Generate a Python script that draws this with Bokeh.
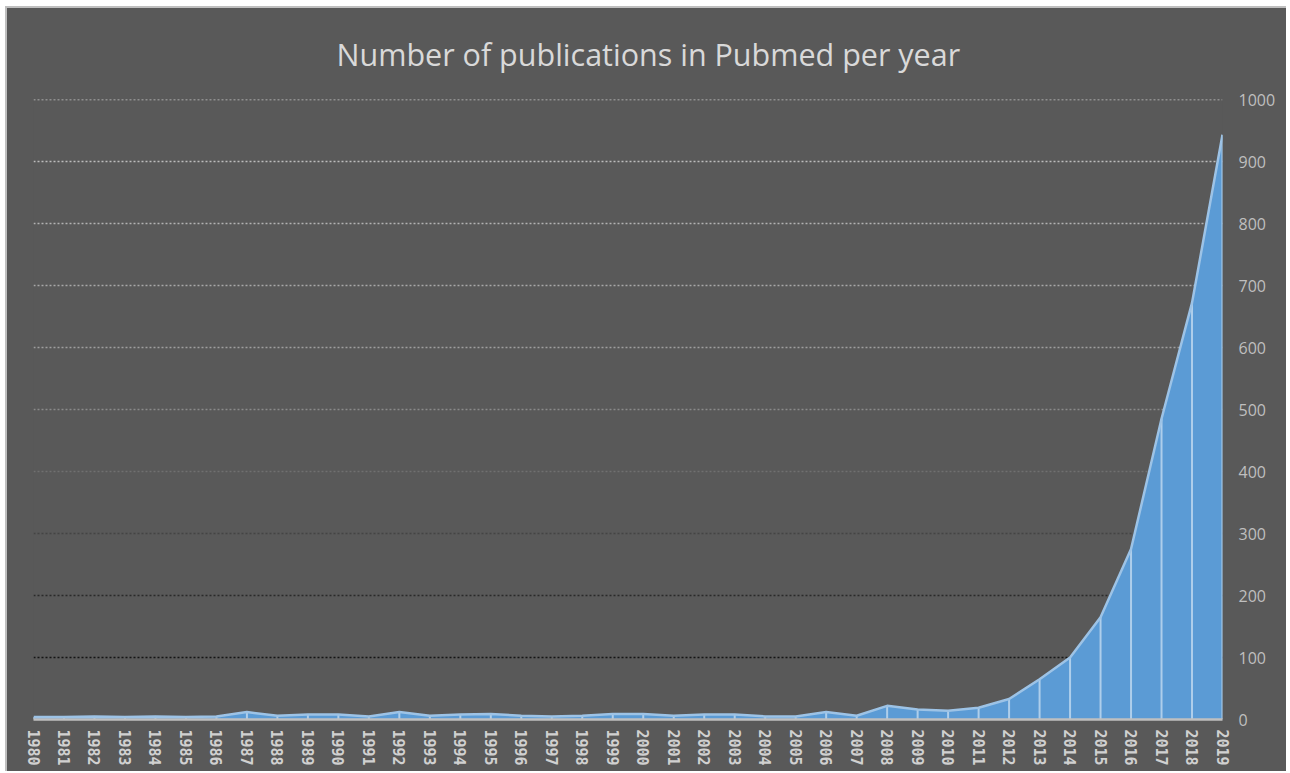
from bokeh.plotting import figure
from bokeh.models import Range1d, FixedTicker, Span
from bokeh.embed import file_html
from bokeh.resources import INLINE

years = list(range(1980, 2020))
publications = [4, 4, 5, 4, 5, 4, 5, 12, 6, 8,
                8, 5, 12, 6, 8, 9, 6, 5, 6, 9,
                9, 6, 8, 8, 5, 5, 12, 6, 22, 16,
                14, 19, 33, 65, 100, 165, 275, 485, 672, 943]
y_ticks = [0, 100, 200, 300, 400, 500, 600, 700, 800, 900, 1000]
grid_colors = {100: "#151515", 200: "#2a2a2a", 300: "#444444", 400: "#707070",
               500: "#8a8a8a", 600: "#9e9e9e", 700: "#a8a8a8", 800: "#b2b2b2",
               900: "#bcbcbc", 1000: "#c6c6c6"}

BG = "#595959"

p = figure(width=1281, height=765, output_backend="svg", toolbar_location=None,
           x_range=Range1d(1980, 2019), y_range=Range1d(0, 1000),
           y_axis_location="right",
           min_border_left=26, min_border_right=66, min_border_top=91, min_border_bottom=54,
           background_fill_color=BG, border_fill_color=BG)
p.outline_line_color = None
p.styles = {"margin-left": "5px", "margin-top": "6px", "background-color": BG,
            "border-top": "2px solid #BFBFBF", "border-left": "2px solid #BFBFBF"}

p.title.text = "Number of publications in Pubmed per year"
p.title.align = "left"
p.title.offset = 303
p.title.vertical_align = "top"
p.title.text_font = "Open Sans"
p.title.text_font_style = "normal"
p.title.text_font_size = "30.5px"
p.title.text_color = "#D9D9D9"
p.title.standoff = 46

p.xgrid.visible = False
p.ygrid.visible = False

for t in y_ticks[1:]:
    p.add_layout(Span(location=t, dimension="width", line_color=grid_colors[t],
                      line_width=1.6, line_dash="2 2", level="underlay"))

p.varea(x=years, y1=[0] * len(years), y2=publications, fill_color="#5B9BD5")
p.segment(x0=years, y0=[0] * len(years), x1=years, y1=publications,
          line_color="#BDD7EE", line_width=2, line_alpha=0.85)
p.line(years, publications, line_color="#9DC3E6", line_width=2.5)

xa = p.xaxis[0]
xa.ticker = FixedTicker(ticks=years)
xa.major_label_orientation = "vertical"
xa.major_label_text_font = "DejaVu Sans Mono"
xa.major_label_text_font_style = "bold"
xa.major_label_text_font_size = "15px"
xa.major_label_text_color = "#D0D0D0"
xa.major_tick_line_color = None
xa.minor_tick_line_color = None
xa.axis_line_color = "#BFBFBF"
xa.axis_line_width = 2.5
xa.major_label_standoff = 4

ya = p.yaxis[0]
ya.ticker = FixedTicker(ticks=y_ticks)
ya.major_label_text_font = "Open Sans"
ya.major_label_text_font_size = "16px"
ya.major_label_text_color = "#BFBFBF"
ya.major_tick_line_color = None
ya.minor_tick_line_color = None
ya.axis_line_color = None
ya.major_label_standoff = 10

open("out.html", "w").write(file_html(p, INLINE))
